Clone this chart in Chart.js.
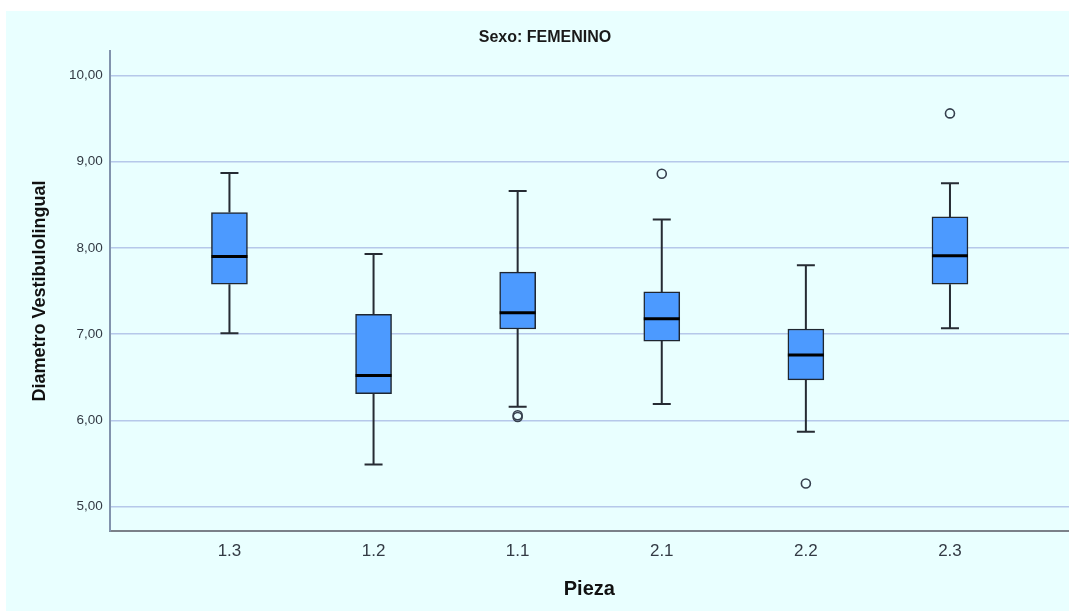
<!DOCTYPE html>
<html>
<head>
<meta charset="utf-8">
<script src="https://cdn.jsdelivr.net/npm/chart.js@4/dist/chart.umd.min.js"></script>
<style>
  html, body { margin: 0; padding: 0; background: #ffffff; }
  #panel {
    position: absolute;
    left: 6px;
    top: 11px;
    background: #e9ffff;
  }
</style>
</head>
<body>
<canvas id="panel" width="1063" height="600"></canvas>
<script>
// Pieza dental (categorías) y estadísticos del diámetro vestibulolingual
const categories = ["1.3", "1.2", "1.1", "2.1", "2.2", "2.3"];
const whiskerLow = [7.01, 5.49, 6.16, 6.19, 5.87, 7.07];
const q1 = [7.58, 6.31, 7.06, 6.92, 6.47, 7.58];
const median = [7.90, 6.52, 7.25, 7.18, 6.76, 7.91];
const q3 = [8.41, 7.23, 7.72, 7.49, 7.06, 8.36];
const whiskerHigh = [8.87, 7.93, 8.66, 8.33, 7.80, 8.75];
const outliers = [[], [], [6.04, 6.06], [8.86], [5.27], [9.56]];
const yTicks = [5, 6, 7, 8, 9, 10];

const FONT = "'Liberation Sans', Arial, sans-serif";

// bigotes y medianas dibujados con las escalas del gráfico
const boxplotLines = {
  id: "boxplotLines",
  beforeDatasetsDraw(chart) {
    const { ctx, scales: { x, y } } = chart;
    ctx.save();
    ctx.strokeStyle = "#262b33";
    ctx.lineWidth = 2;
    categories.forEach((c, i) => {
      const cx = x.getPixelForValue(i);
      const segs = [[q3[i], whiskerHigh[i]], [q1[i], whiskerLow[i]]];
      segs.forEach(([from, to]) => {
        const yt = y.getPixelForValue(to);
        ctx.beginPath();
        ctx.moveTo(cx, y.getPixelForValue(from));
        ctx.lineTo(cx, yt);
        ctx.moveTo(cx - 9, yt);
        ctx.lineTo(cx + 9, yt);
        ctx.stroke();
      });
    });
    ctx.restore();
  },
  afterDatasetsDraw(chart) {
    const { ctx, scales: { x, y } } = chart;
    const bars = chart.getDatasetMeta(0).data;
    ctx.save();
    ctx.strokeStyle = "#000000";
    ctx.lineWidth = 3;
    categories.forEach((c, i) => {
      const cx = x.getPixelForValue(i);
      const half = bars[i].width / 2;
      const ym = y.getPixelForValue(median[i]);
      ctx.beginPath();
      ctx.moveTo(cx - half, ym);
      ctx.lineTo(cx + half, ym);
      ctx.stroke();
    });
    ctx.restore();
  }
};

const boxData = categories.map((c, i) => ({ x: i, y: [q1[i], q3[i]] }));
const outlierData = [];
outliers.forEach((vals, i) => vals.forEach(v => outlierData.push({ x: i, y: v })));

new Chart(document.getElementById("panel"), {
  type: "bar",
  data: {
    datasets: [
      {
        data: boxData,
        backgroundColor: "#4c9aff",
        borderColor: "#1f2630",
        borderWidth: 1.5,
        borderSkipped: false,
        barThickness: 36
      },
      {
        type: "scatter",
        data: outlierData,
        pointRadius: 4.5,
        pointBorderWidth: 1.6,
        pointBorderColor: "#36404e",
        pointBackgroundColor: "rgba(0,0,0,0)"
      }
    ]
  },
  options: {
    responsive: false,
    animation: false,
    devicePixelRatio: 1,
    layout: { autoPadding: false, padding: { left: 15, top: 0, right: 0, bottom: 0 } },
    plugins: {
      legend: { display: false },
      tooltip: { enabled: false },
      title: {
        display: true,
        text: "Sexo: FEMENINO",
        color: "#1a1a1a",
        font: { family: FONT, size: 16, weight: "bold" },
        padding: { top: 17, bottom: 4 }
      }
    },
    scales: {
      x: {
        type: "linear",
        offset: false,
        min: -0.831,
        max: 5.826,
        afterFit(scale) { scale.height = 80.3; },
        afterBuildTicks(scale) { scale.ticks = categories.map((c, i) => ({ value: i })); },
        grid: { display: false, drawTicks: false, offset: false },
        border: { display: true, color: "#7b8189", width: 2 },
        ticks: {
          padding: 10,
          color: "#333a44",
          font: { family: FONT, size: 17 },
          callback: (v) => categories[v]
        },
        title: {
          display: true,
          text: "Pieza",
          color: "#111111",
          font: { family: FONT, size: 20, weight: "bold" },
          padding: { top: 8, bottom: 10 }
        }
      },
      y: {
        min: 4.722,
        max: 10.281,
        afterFit(scale) { scale.width = 88.7; },
        afterBuildTicks(scale) { scale.ticks = yTicks.map(v => ({ value: v })); },
        grid: { color: "#b6c8ea", lineWidth: 1.5, drawTicks: false },
        border: { display: true, color: "#8293ad", width: 2 },
        ticks: {
          padding: 7,
          color: "#333a44",
          font: { family: FONT, size: 13.5 },
          callback: (v) => v.toFixed(2).replace(".", ",")
        },
        title: {
          display: true,
          text: "Diametro Vestibulolingual",
          color: "#111111",
          font: { family: FONT, size: 18, weight: "bold" },
          padding: { top: 8, bottom: 0 }
        }
      }
    }
  },
  plugins: [boxplotLines]
});
</script>
</body>
</html>
